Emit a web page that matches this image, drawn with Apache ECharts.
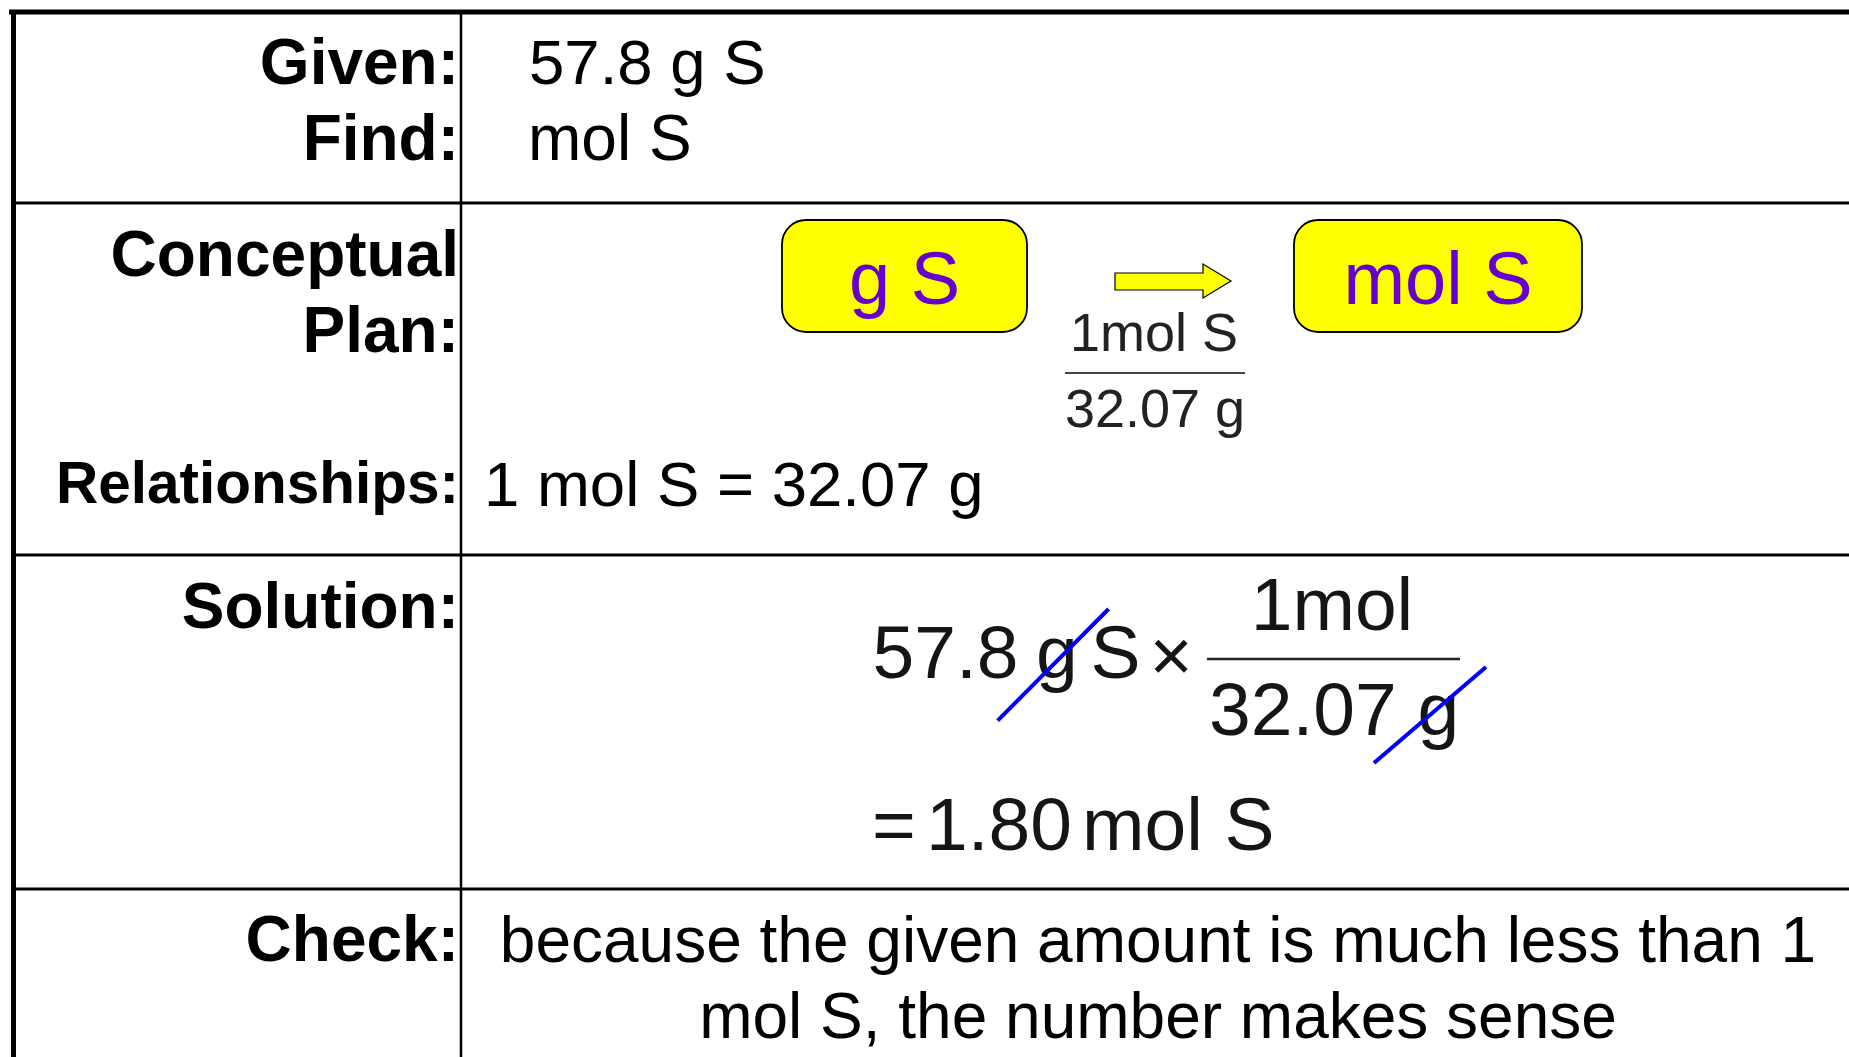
<!DOCTYPE html>
<html>
<head>
<meta charset="utf-8">
<title>Grams to moles of sulfur</title>
<script src="https://cdn.jsdelivr.net/npm/echarts@6/dist/echarts.min.js"></script>
<style>
  html, body { margin: 0; padding: 0; background: #fff; }
  #chart { width: 1849px; height: 1057px; }
</style>
</head>
<body>
<div id="chart"></div>
<script>
// row headings (left column)
const rowLabels = ['Given:', 'Find:', 'Conceptual', 'Plan:', 'Relationships:', 'Solution:', 'Check:']
// given / find quantities
const givenFind = ['57.8 g S', 'mol S']
// conceptual plan boxes and the conversion factor under the arrow
const planBoxes = ['g S', 'mol S']
const planFactor = ['1mol S', '32.07 g']
const relationships = ['1 mol S = 32.07 g']
// solution pieces
const solutionTerms = ['57.8', 'g', 'S', '×']
const solutionFactor = ['1mol', '32.07 g']
const solutionResult = ['=', '1.80', 'mol', 'S']
// check sentence, two lines
const checkLines = ['because the given amount is much less than 1', 'mol S, the number makes sense']

const FONT = '"Liberation Sans", Arial, Helvetica, sans-serif'
// canvas "middle" sits a little above the cap centre
const TEXT_DY = 4.5

const chartDom = document.getElementById('chart')
const chart = echarts.init(chartDom, null, { renderer: 'canvas' })

// text helper
const txt = (x, y, text, size, opts = {}) => ({
  type: 'text',
  silent: true,
  style: {
    x: x,
    y: y + TEXT_DY,
    text: text,
    fontSize: size,
    fontFamily: FONT,
    fontWeight: opts.bold ? 'bold' : 'normal',
    fill: opts.color || '#000',
    textAlign: opts.align || 'left',
    textVerticalAlign: 'middle'
  }
})

// line helper
const seg = (x1, y1, x2, y2, w, color) => ({
  type: 'line',
  silent: true,
  shape: { x1, y1, x2, y2 },
  style: { stroke: color || '#000', lineWidth: w }
})

const elements = []

// table frame
elements.push(seg(9, 12, 1849, 12, 5))
elements.push(seg(13.5, 10, 13.5, 1057, 5))
elements.push(seg(461, 12, 461, 1057, 2.5))
;[203, 555, 889].forEach(y => elements.push(seg(14, y, 1849, y, 3)))

// left column headings
const labelY = [61.6, 137.6, 254, 330, 482, 605.5, 939]
rowLabels.forEach((label, i) => {
  const size = label === 'Relationships:' ? 58.5 : 64
  elements.push(txt(459, labelY[i], label, size, { bold: true, align: 'right' }))
})

// given / find
elements.push(txt(529, 61.6, givenFind[0], 63.5))
elements.push(txt(528, 137.6, givenFind[1], 64))

// conceptual plan boxes
const boxes = [
  { x: 782, y: 220, width: 245, height: 112 },
  { x: 1294, y: 220, width: 288, height: 112 }
]
boxes.forEach((b, i) => {
  elements.push({
    type: 'rect',
    silent: true,
    shape: { x: b.x, y: b.y, width: b.width, height: b.height, r: 24 },
    style: { fill: '#FFFF00', stroke: '#000', lineWidth: 1.8 }
  })
  elements.push(txt(b.x + b.width / 2, 279, planBoxes[i], 74, { color: '#6600CC', align: 'center' }))
})

// block arrow between the boxes
elements.push({
  type: 'polygon',
  silent: true,
  shape: {
    points: [[1115, 273], [1203, 273], [1203, 264], [1231, 281], [1203, 298], [1203, 290], [1115, 290]]
  },
  style: { fill: '#FFFF00', stroke: '#000', lineWidth: 1.2 }
})

// conversion factor under the arrow
elements.push(txt(1154, 332, planFactor[0], 54, { color: '#222', align: 'center' }))
elements.push(seg(1065, 373, 1245, 373, 2, '#444'))
elements.push(txt(1155, 408, planFactor[1], 54, { color: '#222', align: 'center' }))

// relationships
elements.push(txt(484, 484, relationships[0], 63.5))

// solution: 57.8 g S x (1mol / 32.07 g)
const eqColor = '#151515'
elements.push(txt(872.5, 653, solutionTerms[0], 75, { color: eqColor }))
elements.push(txt(1036, 653, solutionTerms[1], 75, { color: eqColor }))
elements.push(txt(1090.5, 653, solutionTerms[2], 75, { color: eqColor }))
elements.push(txt(1171, 656, solutionTerms[3], 74, { color: eqColor, align: 'center' }))
elements.push(seg(1207, 659, 1460, 659, 2.5, '#222'))
elements.push(txt(1332, 605, solutionFactor[0], 75, { color: eqColor, align: 'center' }))
elements.push(txt(1209, 710, solutionFactor[1], 75, { color: eqColor }))

// = 1.80 mol S
const resultX = [872, 926, 1082, 1224.5]
solutionResult.forEach((part, i) => {
  elements.push(txt(resultX[i], 825, part, 75, { color: eqColor }))
})

// cancel strokes through the grams
elements.push(seg(997.6, 720.7, 1108.6, 609, 4, '#0000FF'))
elements.push(seg(1374, 763, 1486, 667, 4, '#0000FF'))

// check
elements.push(txt(1158, 940, checkLines[0], 64, { align: 'center' }))
elements.push(txt(1158, 1016, checkLines[1], 64, { align: 'center' }))

chart.setOption({
  backgroundColor: '#fff',
  animation: false,
  graphic: { elements: elements }
})

window.addEventListener('resize', () => chart.resize())
</script>
</body>
</html>
